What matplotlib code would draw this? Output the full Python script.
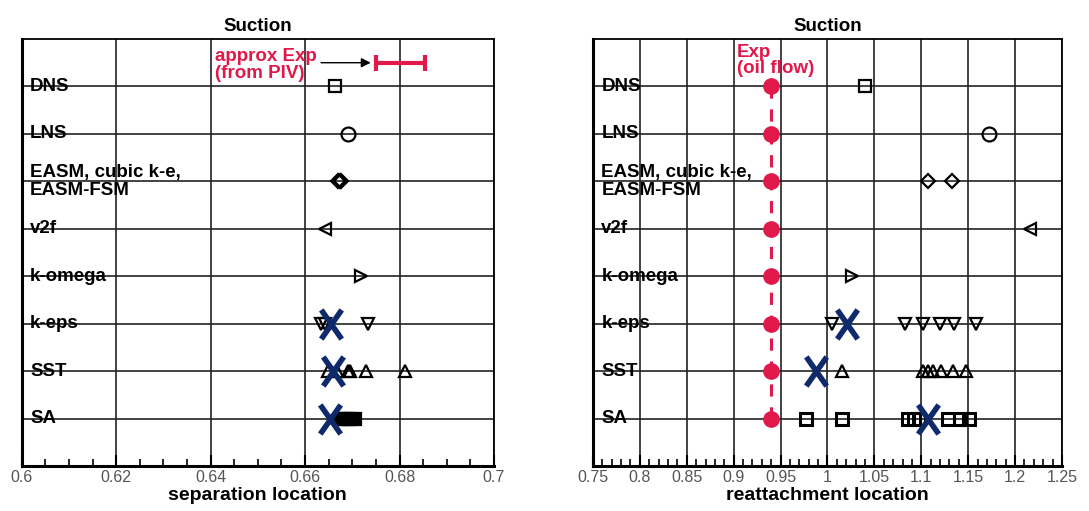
import matplotlib.pyplot as plt
import numpy as np
from matplotlib.path import Path
from matplotlib.ticker import MultipleLocator

plt.rcParams['font.family'] = ['Liberation Sans', 'DejaVu Sans']

models = ['SA', 'SST', 'k-eps', 'k-omega', 'v2f', 'EASM, cubic k-e,\nEASM-FSM', 'LNS', 'DNS']
rows = np.arange(1, len(models) + 1)

# separation location (suction side)
sep_dns = [0.6663]
sep_lns = [0.6691]
sep_easm = [0.6670, 0.6673, 0.6676]
sep_v2f = [0.6643]
sep_komega = [0.6718]
sep_keps = [0.6634, 0.6642, 0.6734]
sep_sst = [0.6649, 0.6668, 0.6691, 0.6695, 0.6729, 0.6812]
sep_sa = [0.6673, 0.6681, 0.6689, 0.6697, 0.6705]
sep_exp_lo, sep_exp_hi = 0.6750, 0.6855
sep_x_keps, sep_x_sst, sep_x_sa = 0.6655, 0.6659, 0.6653

# reattachment location (suction side)
rea_exp = 0.940
rea_dns = [1.040]
rea_lns = [1.172]
rea_easm = [1.107, 1.133]
rea_v2f = [1.216]
rea_komega = [1.026]
rea_keps = [1.005, 1.083, 1.102, 1.120, 1.135, 1.158]
rea_sst = [1.016, 1.102, 1.107, 1.113, 1.121, 1.134, 1.148]
rea_sa = [0.977, 1.016, 1.086, 1.092, 1.098, 1.128, 1.141, 1.151]
rea_x_keps, rea_x_sst, rea_x_sa = 1.021, 0.988, 1.107

RED = '#e0194a'
NAVY = '#0f2a6b'
cross = Path([(-0.7, -1), (0.7, 1), (-0.7, 1), (0.7, -1)],
             [Path.MOVETO, Path.LINETO, Path.MOVETO, Path.LINETO])

fig = plt.figure(figsize=(10.89, 5.11), dpi=100)
ax1 = fig.add_axes([0.0199, 0.0881, 0.4337, 0.8356])
ax2 = fig.add_axes([0.5445, 0.0881, 0.4307, 0.8356])


def setup(ax, xmin, xmax, major, minor, xlabel):
    ax.set_xlim(xmin, xmax)
    ax.set_ylim(0, 9)
    ax.xaxis.set_major_locator(MultipleLocator(major))
    ax.xaxis.set_minor_locator(MultipleLocator(minor))
    ax.set_yticks(rows)
    ax.tick_params(axis='y', left=False, labelleft=False)
    ax.tick_params(axis='x', which='major', direction='in', length=8, width=1.5,
                   labelsize=11.5, labelcolor='#555555', pad=3)
    ax.tick_params(axis='x', which='minor', direction='in', length=5, width=1.2)
    ax.grid(True, which='major', color='#222222', linewidth=1.2)
    ax.set_axisbelow(True)
    for s in ['left', 'bottom']:
        ax.spines[s].set_linewidth(2.2)
    for s in ['top', 'right']:
        ax.spines[s].set_linewidth(1.3)
    ax.set_title('Suction', fontsize=13.5, fontweight='bold', pad=6)
    ax.set_xlabel(xlabel, fontsize=14, fontweight='bold', labelpad=1)
    for r, name in zip(rows, models):
        ax.text(0.018, r, name, transform=ax.get_yaxis_transform(),
                fontsize=13.5, fontweight='bold', va='center', ha='left',
                linespacing=1.05, zorder=3)


def marks(ax, xs, row, marker, size, filled=False, lw=1.6):
    ax.plot(xs, [row] * len(xs), linestyle='none', marker=marker, markersize=size,
            markerfacecolor='black' if filled else 'none', markeredgecolor='black',
            markeredgewidth=lw, zorder=4)


def crosses(ax, xs, ys):
    ax.plot(xs, ys, linestyle='none', marker=cross, markersize=21,
            markeredgecolor=NAVY, markeredgewidth=4, zorder=6)


# left panel: separation
setup(ax1, 0.6, 0.7, 0.02, 0.005, 'separation location')
ax1.set_xticks([0.6, 0.62, 0.64, 0.66, 0.68, 0.7])
ax1.set_xticklabels(['0.6', '0.62', '0.64', '0.66', '0.68', '0.7'])
marks(ax1, sep_dns, 8, 's', 8)
marks(ax1, sep_lns, 7, 'o', 10)
marks(ax1, sep_easm, 6, 'D', 7.5)
marks(ax1, sep_v2f, 5, '<', 8)
marks(ax1, sep_komega, 4, '>', 8)
marks(ax1, sep_keps, 3, 'v', 8)
marks(ax1, sep_sst, 2, '^', 8)
marks(ax1, sep_sa, 1, 's', 8, filled=True)
crosses(ax1, [sep_x_keps, sep_x_sst, sep_x_sa], [3, 2, 1])

exp_mid = (sep_exp_lo + sep_exp_hi) / 2
ax1.errorbar([exp_mid], [8.5], xerr=[(sep_exp_hi - sep_exp_lo) / 2], fmt='none',
             ecolor=RED, elinewidth=3, capsize=6, capthick=3, zorder=5)
ax1.annotate('', xy=(sep_exp_lo - 0.0005, 8.5), xytext=(0.6628, 8.5),
             arrowprops=dict(arrowstyle='-|>', color='black', lw=1, mutation_scale=14),
             zorder=5)
ax1.text(0.641, 8.8, 'approx Exp\n(from PIV)', color=RED, fontsize=13.5,
         fontweight='bold', va='top', ha='left', linespacing=0.95, zorder=5)

# right panel: reattachment
setup(ax2, 0.75, 1.25, 0.05, 0.01, 'reattachment location')
ax2.set_xticks(np.round(np.arange(0.75, 1.2501, 0.05), 2))
ax2.set_xticklabels(['0.75', '0.8', '0.85', '0.9', '0.95', '1', '1.05', '1.1',
                     '1.15', '1.2', '1.25'])
ax2.plot([rea_exp, rea_exp], [1, 8], color=RED, linestyle=(0, (4, 3.5)),
         linewidth=2.2, zorder=4)
ax2.plot([rea_exp] * len(rows), rows, linestyle='none', marker='o', markersize=11,
         color=RED, zorder=5)
marks(ax2, rea_dns, 8, 's', 8)
marks(ax2, rea_lns, 7, 'o', 10)
marks(ax2, rea_easm, 6, 'D', 7.5)
marks(ax2, rea_v2f, 5, '<', 8)
marks(ax2, rea_komega, 4, '>', 8)
marks(ax2, rea_keps, 3, 'v', 8)
marks(ax2, rea_sst, 2, '^', 8)
marks(ax2, rea_sa, 1, 's', 8, lw=2.2)
crosses(ax2, [rea_x_keps, rea_x_sst, rea_x_sa], [3, 2, 1])
ax2.text(0.9035, 8.9, 'Exp\n(oil flow)', color=RED, fontsize=13.5,
         fontweight='bold', va='top', ha='left', linespacing=0.95, zorder=5)

fig.savefig('out.png', dpi=100)
